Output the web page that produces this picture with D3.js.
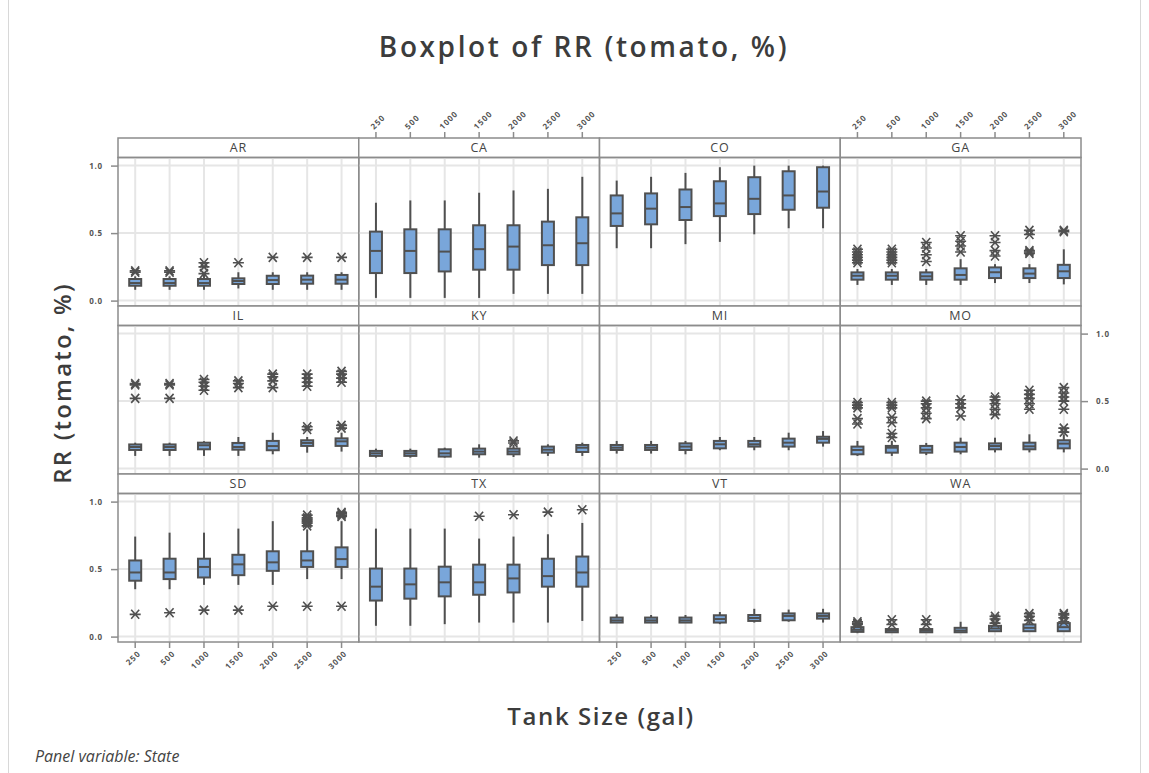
<!DOCTYPE html>
<html>
<head>
<meta charset="utf-8">
<script src="https://cdn.jsdelivr.net/npm/d3@7"></script>
<style>
  html, body { margin: 0; padding: 0; background: #fff; }
  svg { display: block; font-family: "Open Sans", "Noto Sans", sans-serif; }
</style>
</head>
<body>
<svg id="chart" width="1149" height="773"></svg>
<script>
// Tank sizes (gal) along each panel's x axis
const tankSizes = ["250", "500", "1000", "1500", "2000", "2500", "3000"];
const states = ["AR", "CA", "CO", "GA", "IL", "KY", "MI", "MO", "SD", "TX", "VT", "WA"];
const yTicks = [0.0, 0.5, 1.0];

// Box summaries per tank size: [lower whisker, Q1, median, Q3, upper whisker]
const boxAR = [[0.08,0.11,0.13,0.16,0.18],[0.08,0.11,0.13,0.16,0.18],[0.08,0.11,0.13,0.16,0.19],[0.09,0.123,0.145,0.165,0.21],[0.08,0.123,0.152,0.184,0.21],[0.08,0.125,0.155,0.185,0.21],[0.08,0.125,0.155,0.19,0.21]];
const boxCA = [[0.02,0.204,0.368,0.511,0.725],[0.02,0.204,0.368,0.528,0.742],[0.02,0.216,0.363,0.528,0.742],[0.02,0.229,0.381,0.558,0.799],[0.05,0.229,0.40,0.558,0.816],[0.05,0.263,0.41,0.585,0.828],[0.05,0.263,0.425,0.617,0.917]];
const boxCO = [[0.388,0.553,0.646,0.779,0.889],[0.388,0.565,0.681,0.794,0.917],[0.418,0.597,0.693,0.823,0.946],[0.435,0.626,0.72,0.884,0.988],[0.491,0.641,0.754,0.914,1.0],[0.536,0.673,0.779,0.958,1.0],[0.536,0.688,0.808,0.988,1.0]];
const boxGA = [[0.116,0.155,0.184,0.209,0.234],[0.116,0.155,0.184,0.209,0.234],[0.116,0.155,0.18,0.209,0.234],[0.116,0.155,0.19,0.239,0.307],[0.13,0.167,0.21,0.246,0.27],[0.13,0.167,0.2,0.239,0.27],[0.12,0.167,0.217,0.265,0.38]];
const boxIL = [[0.094,0.138,0.16,0.179,0.192],[0.094,0.138,0.16,0.179,0.192],[0.094,0.143,0.173,0.192,0.203],[0.094,0.14,0.16,0.19,0.234],[0.106,0.136,0.167,0.205,0.266],[0.118,0.168,0.19,0.21,0.234],[0.126,0.168,0.202,0.224,0.266]];
const boxKY = [[0.081,0.094,0.113,0.131,0.148],[0.081,0.094,0.113,0.131,0.148],[0.081,0.089,0.113,0.143,0.155],[0.081,0.106,0.126,0.148,0.18],[0.086,0.106,0.126,0.148,0.175],[0.094,0.118,0.14,0.163,0.18],[0.094,0.123,0.155,0.175,0.192]];
const boxMI = [[0.111,0.138,0.155,0.175,0.205],[0.111,0.138,0.155,0.175,0.205],[0.106,0.138,0.163,0.187,0.205],[0.136,0.15,0.18,0.205,0.234],[0.136,0.163,0.18,0.205,0.234],[0.136,0.163,0.192,0.222,0.266],[0.163,0.192,0.22,0.236,0.278]];
const boxMO = [[0.094,0.106,0.138,0.163,0.205],[0.094,0.118,0.155,0.168,0.205],[0.1,0.118,0.14,0.168,0.19],[0.106,0.126,0.16,0.192,0.229],[0.12,0.143,0.167,0.187,0.229],[0.12,0.143,0.165,0.192,0.254],[0.12,0.15,0.185,0.21,0.254]];
const boxSD = [[0.351,0.414,0.475,0.564,0.741],[0.351,0.426,0.475,0.577,0.77],[0.383,0.438,0.516,0.577,0.77],[0.383,0.455,0.535,0.606,0.80],[0.383,0.487,0.55,0.632,0.855],[0.426,0.516,0.564,0.632,0.794],[0.426,0.516,0.574,0.661,0.855]];
const boxTX = [[0.08,0.267,0.37,0.504,0.80],[0.08,0.281,0.387,0.504,0.80],[0.092,0.298,0.402,0.518,0.80],[0.104,0.31,0.402,0.533,0.726],[0.104,0.327,0.431,0.533,0.741],[0.104,0.37,0.448,0.577,0.758],[0.116,0.37,0.475,0.593,0.842]];
const boxVT = [[0.104,0.104,0.12,0.141,0.165],[0.104,0.104,0.12,0.141,0.16],[0.104,0.104,0.12,0.141,0.16],[0.092,0.104,0.13,0.158,0.182],[0.104,0.116,0.138,0.16,0.206],[0.11,0.121,0.153,0.172,0.2],[0.104,0.133,0.153,0.172,0.206]];
const boxWA = [[0.025,0.035,0.05,0.07,0.085],[0.03,0.032,0.045,0.056,0.065],[0.03,0.032,0.045,0.056,0.065],[0.03,0.032,0.045,0.065,0.11],[0.035,0.04,0.06,0.08,0.095],[0.035,0.04,0.065,0.09,0.11],[0.035,0.04,0.07,0.1,0.11]];

// Outliers per tank size
const outAR = [[0.21,0.22],[0.21,0.22],[0.2,0.25,0.28],[0.28],[0.32],[0.32],[0.32]];
const outCA = [[],[],[],[],[],[],[]];
const outCO = [[],[],[],[],[],[],[]];
const outGA = [[0.28,0.30,0.32,0.34,0.36,0.38],[0.28,0.30,0.32,0.34,0.36,0.38],[0.29,0.34,0.39,0.43],[0.36,0.405,0.44,0.48],[0.33,0.37,0.43,0.48],[0.35,0.36,0.37,0.49,0.52],[0.51,0.52]];
const outIL = [[0.52,0.62,0.63],[0.52,0.62,0.63],[0.58,0.61,0.64,0.66],[0.6,0.63,0.65],[0.6,0.65,0.68,0.7],[0.29,0.31,0.61,0.64,0.67,0.7],[0.3,0.32,0.64,0.67,0.7,0.72]];
const outKY = [[],[],[],[],[0.19,0.205],[],[]];
const outMI = [[],[],[],[],[],[],[]];
const outMO = [[0.33,0.37,0.45,0.47,0.49],[0.23,0.26,0.34,0.38,0.45,0.47,0.49],[0.37,0.41,0.45,0.48,0.5],[0.39,0.45,0.48,0.51],[0.4,0.44,0.48,0.51,0.53],[0.44,0.48,0.52,0.55,0.58],[0.27,0.3,0.44,0.5,0.53,0.56,0.6]];
const outSD = [[0.165],[0.177],[0.196],[0.196],[0.225],[0.225,0.82,0.84,0.85,0.86,0.87,0.88,0.9],[0.225,0.89,0.9,0.91,0.92]];
const outTX = [[],[],[],[0.891],[0.903],[0.922],[0.94]];
const outVT = [[],[],[],[],[],[],[]];
const outWA = [[0.09,0.095,0.1,0.11],[0.09,0.125],[0.09,0.125],[],[0.1,0.13,0.15],[0.12,0.15,0.17],[0.11,0.14,0.16,0.17]];

const boxes = [boxAR, boxCA, boxCO, boxGA, boxIL, boxKY, boxMI, boxMO, boxSD, boxTX, boxVT, boxWA];
const outliers = [outAR, outCA, outCO, outGA, outIL, outKY, outMI, outMO, outSD, outTX, outVT, outWA];

const svg = d3.select("#chart");

// Outer frame of the graph window
svg.append("rect")
  .attr("x", 8.5).attr("y", -2).attr("width", 1132).attr("height", 778)
  .attr("fill", "none").attr("stroke", "#d8d8d8").attr("stroke-width", 1);

// Panel grid geometry
const gridLeft = 118, gridRight = 1081, gridTop = 138;
const nCols = 4, nRows = 3;
const colW = (gridRight - gridLeft) / nCols;
const rowH = 168, stripH = 19.5, plotH = rowH - stripH;

const x = d3.scaleBand().domain(tankSizes).range([0, colW]);
const y = d3.scaleLinear().domain([-0.04, 1.06]).range([plotH, 0]);

const frameColor = "#8c8c8c";
const gridColor = "#e6e6e6";
const inkColor = "#505050";
const boxFill = "#79a6da";

// Title
svg.append("text")
  .attr("x", 584).attr("y", 57)
  .attr("text-anchor", "middle")
  .attr("font-size", 28).attr("font-weight", 600)
  .attr("letter-spacing", 2.6)
  .attr("fill", "#3c3c3c")
  .text("Boxplot of RR (tomato, %)");

// Axis titles
svg.append("text")
  .attr("transform", "translate(71,383) rotate(-90)")
  .attr("text-anchor", "middle")
  .attr("font-size", 24).attr("font-weight", 600)
  .attr("letter-spacing", 2.2)
  .attr("fill", "#3c3c3c")
  .text("RR (tomato, %)");

svg.append("text")
  .attr("x", 601).attr("y", 725)
  .attr("text-anchor", "middle")
  .attr("font-size", 24).attr("font-weight", 600)
  .attr("letter-spacing", 1.6)
  .attr("fill", "#3c3c3c")
  .text("Tank Size (gal)");

svg.append("text")
  .attr("x", 35).attr("y", 762)
  .attr("font-size", 16).attr("font-style", "italic")
  .attr("fill", "#444")
  .text("Panel variable: State");

// Asterisk symbol used for outliers
const star = "M-5.5,0H5.5M-4,-4.5L4,4.5M-4,4.5L4,-4.5";

states.forEach((st, i) => {
  const col = i % nCols, row = Math.floor(i / nCols);
  const px = gridLeft + col * colW;
  const py = gridTop + row * rowH;
  const g = svg.append("g").attr("transform", `translate(${px},${py})`);

  // strip
  g.append("rect")
    .attr("x", 0).attr("y", 0).attr("width", colW).attr("height", stripH)
    .attr("fill", "#fff").attr("stroke", frameColor).attr("stroke-width", 1.5);
  g.append("text")
    .attr("x", colW / 2).attr("y", stripH / 2 + 4.5)
    .attr("text-anchor", "middle")
    .attr("font-size", 12.5).attr("letter-spacing", 0.8)
    .attr("fill", "#444")
    .text(st);

  const p = g.append("g").attr("transform", `translate(0,${stripH})`);

  // grid
  p.selectAll("line.vg").data(tankSizes).join("line")
    .attr("x1", d => x(d) + x.bandwidth() / 2).attr("x2", d => x(d) + x.bandwidth() / 2)
    .attr("y1", 0).attr("y2", plotH)
    .attr("stroke", gridColor).attr("stroke-width", 2);
  p.selectAll("line.hg").data(yTicks).join("line")
    .attr("x1", 0).attr("x2", colW)
    .attr("y1", d => y(d)).attr("y2", d => y(d))
    .attr("stroke", gridColor).attr("stroke-width", 2);

  // frame
  p.append("rect")
    .attr("x", 0).attr("y", 0).attr("width", colW).attr("height", plotH)
    .attr("fill", "none").attr("stroke", frameColor).attr("stroke-width", 1.5);

  const bw = 12;
  const items = boxes[i].map((b, k) => ({ size: tankSizes[k], b, out: outliers[i][k] }));
  const bg = p.selectAll("g.box").data(items).join("g")
    .attr("transform", d => `translate(${x(d.size) + x.bandwidth() / 2},0)`);

  // whiskers
  bg.append("line")
    .attr("x1", 0).attr("x2", 0)
    .attr("y1", d => y(d.b[0])).attr("y2", d => y(d.b[1]))
    .attr("stroke", inkColor).attr("stroke-width", 2);
  bg.append("line")
    .attr("x1", 0).attr("x2", 0)
    .attr("y1", d => y(d.b[3])).attr("y2", d => y(d.b[4]))
    .attr("stroke", inkColor).attr("stroke-width", 2);
  // box
  bg.append("rect")
    .attr("x", -bw / 2).attr("width", bw)
    .attr("y", d => y(d.b[3])).attr("height", d => Math.max(0, y(d.b[1]) - y(d.b[3])))
    .attr("fill", boxFill).attr("stroke", inkColor).attr("stroke-width", 2);
  // median
  bg.append("line")
    .attr("x1", -bw / 2).attr("x2", bw / 2)
    .attr("y1", d => y(d.b[2])).attr("y2", d => y(d.b[2]))
    .attr("stroke", inkColor).attr("stroke-width", 2);
  // outliers
  bg.selectAll("path").data(d => d.out).join("path")
    .attr("d", star)
    .attr("transform", v => `translate(0,${y(v)})`)
    .attr("fill", "none").attr("stroke", inkColor).attr("stroke-width", 1.6);

  // axes
  const styleTicks = sel => {
    sel.select(".domain").remove();
    sel.selectAll(".tick line").attr("stroke", frameColor).attr("stroke-width", 1.5);
    sel.selectAll(".tick text")
      .attr("fill", "#555").attr("font-size", 8).attr("font-weight", 700)
      .attr("letter-spacing", 0.8)
      .attr("font-family", "'Open Sans', sans-serif");
  };
  const fmt = d3.format(".1f");
  if (col === 0 && row !== 1) {
    p.append("g").call(d3.axisLeft(y).tickValues(yTicks).tickFormat(fmt).tickSize(7).tickPadding(8)).call(styleTicks);
  }
  if (col === 3 && row === 1) {
    p.append("g").attr("transform", `translate(${colW},0)`)
      .call(d3.axisRight(y).tickValues(yTicks).tickFormat(fmt).tickSize(7).tickPadding(8)).call(styleTicks);
  }
  const xTickPos = d => x(d) + x.bandwidth() / 2;
  if (row === 0 && (col === 1 || col === 3)) {
    const a = g.append("g");
    a.selectAll("line").data(tankSizes).join("line")
      .attr("x1", xTickPos).attr("x2", xTickPos).attr("y1", 0).attr("y2", -6)
      .attr("stroke", frameColor).attr("stroke-width", 1.5);
    a.selectAll("text").data(tankSizes).join("text")
      .attr("transform", d => `translate(${xTickPos(d) - 4},${-10}) rotate(-45)`)
      .attr("text-anchor", "start").attr("dy", "0.35em")
      .attr("fill", "#555").attr("font-size", 8).attr("font-weight", 700)
      .attr("letter-spacing", 1)
      .text(d => d);
  }
  if (row === 2 && (col === 0 || col === 2)) {
    const a = p.append("g").attr("transform", `translate(0,${plotH})`);
    a.selectAll("line").data(tankSizes).join("line")
      .attr("x1", xTickPos).attr("x2", xTickPos).attr("y1", 0).attr("y2", 6)
      .attr("stroke", frameColor).attr("stroke-width", 1.5);
    a.selectAll("text").data(tankSizes).join("text")
      .attr("transform", d => `translate(${xTickPos(d) + 4},${10}) rotate(-45)`)
      .attr("text-anchor", "end").attr("dy", "0.35em")
      .attr("fill", "#555").attr("font-size", 8).attr("font-weight", 700)
      .attr("letter-spacing", 1)
      .text(d => d);
  }
});
</script>
</body>
</html>
